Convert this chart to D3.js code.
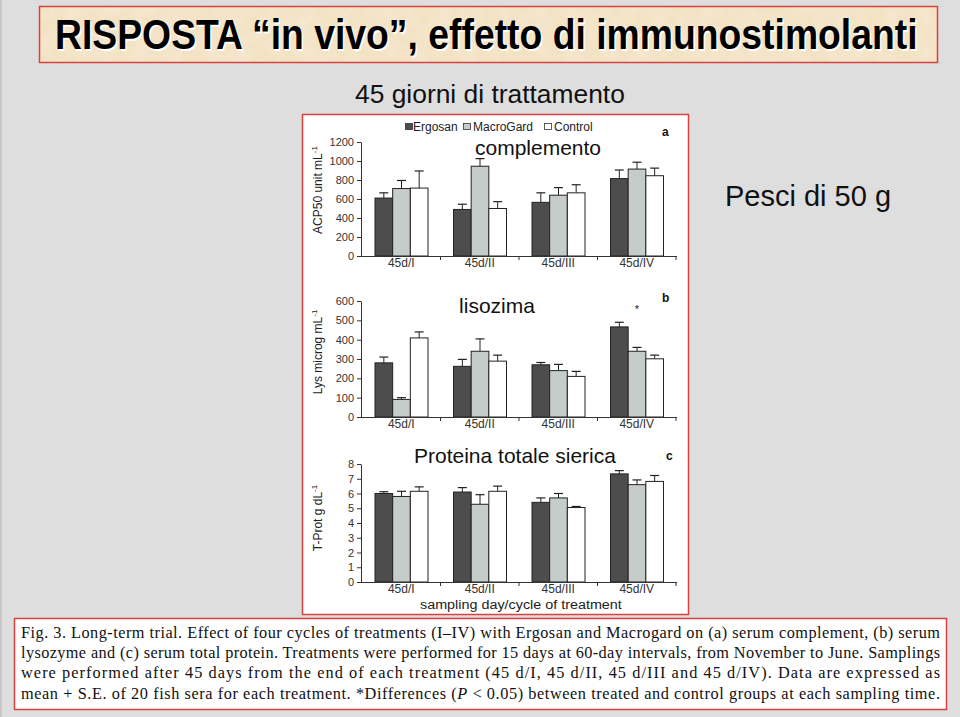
<!DOCTYPE html>
<html>
<head>
<meta charset="utf-8">
<script src="https://cdn.jsdelivr.net/npm/d3@7/dist/d3.min.js"></script>
<style>
  html, body { margin: 0; padding: 0; background: #dedede; }
  svg { display: block; }
</style>
</head>
<body>
<script>
// ---------------- DATA ----------------
const categories = ["45d/I", "45d/II", "45d/III", "45d/IV"];
const seriesNames = ["Ergosan", "MacroGard", "Control"];

// (a) serum complement, ACP50 unit mL-1
const acpTicks = [0, 200, 400, 600, 800, 1000, 1200];
const acpErgosan = [610, 490, 565, 815];
const acpErgosanSE = [55, 55, 100, 90];
const acpMacroGard = [710, 945, 640, 915];
const acpMacroGardSE = [85, 80, 80, 72];
const acpControl = [715, 500, 665, 845];
const acpControlSE = [180, 72, 85, 80];

// (b) serum lysozyme, Lys microg mL-1
const lysTicks = [0, 100, 200, 300, 400, 500, 600];
const lysErgosan = [280, 262, 270, 466];
const lysErgosanSE = [30, 36, 12, 24];
const lysMacroGard = [91, 340, 240, 340];
const lysMacroGardSE = [9, 64, 32, 20];
const lysControl = [409, 289, 210, 301];
const lysControlSE = [31, 31, 26, 19];

// (c) serum total protein, T-Prot g dL-1
const protTicks = [0, 1, 2, 3, 4, 5, 6, 7, 8];
const protErgosan = [6.0, 6.1, 5.4, 7.33];
const protErgosanSE = [0.12, 0.3, 0.3, 0.22];
const protMacroGard = [5.8, 5.27, 5.7, 6.6];
const protMacroGardSE = [0.35, 0.65, 0.3, 0.32];
const protControl = [6.15, 6.15, 5.05, 6.82];
const protControlSE = [0.3, 0.35, 0.07, 0.4];

const captionLines = [
  "Fig. 3. Long-term trial. Effect of four cycles of treatments (I\u2013IV) with Ergosan and Macrogard on (a) serum complement, (b) serum",
  "lysozyme and (c) serum total protein. Treatments were performed for 15 days at 60-day intervals, from November to June. Samplings",
  "were performed after 45 days from the end of each treatment (45 d/I, 45 d/II, 45 d/III and 45 d/IV). Data are expressed as",
  "mean + S.E. of 20 fish sera for each treatment. *Differences (|P| < 0.05) between treated and control groups at each sampling time."
];

// ---------------- DRAW ----------------
const W = 960, H = 717;
const SANS = "'Liberation Sans', Arial, Helvetica, sans-serif";
const SERIF = "'Liberation Serif', 'Times New Roman', serif";
const fills = {Ergosan: "#4d4d4d", MacroGard: "#c6cbcc", Control: "#ffffff"};
const RED = "#d9423f";

const svg = d3.select("body").append("svg").attr("width", W).attr("height", H);

const defs = svg.append("defs");
const filt = defs.append("filter").attr("id", "paper").attr("x", 0).attr("y", 0).attr("width", 1).attr("height", 1);
filt.append("feTurbulence").attr("type", "fractalNoise").attr("baseFrequency", 0.06).attr("numOctaves", 3).attr("seed", 4).attr("result", "n");
filt.append("feColorMatrix").attr("in", "n").attr("type", "matrix")
  .attr("values", "0 0 0 0 0.93  0 0 0 0 0.85  0 0 0 0 0.72  0 0 0 -0.9 0.6").attr("result", "c");
filt.append("feComposite").attr("in", "c").attr("in2", "SourceGraphic").attr("operator", "over");

svg.append("rect").attr("width", W).attr("height", H).attr("fill", "#dedede");
svg.append("rect").attr("x", 0).attr("y", 0).attr("width", 2).attr("height", H).attr("fill", "#c8c8c8");

// helper: fit text horizontally to a target width by scaling the glyphs
function fitText(sel, x, y, targetW, anchor) {
  const L = sel.node().getComputedTextLength();
  const s = targetW / L;
  sel.attr("x", 0).attr("y", 0).attr("transform", `translate(${x},${y}) scale(${s},1)`);
  if (anchor) sel.attr("text-anchor", anchor);
  return sel;
}

// Title box
svg.append("rect").attr("x", 39.5).attr("y", 6.5).attr("width", 898).attr("height", 56)
  .attr("fill", "#f3e2c4").attr("filter", "url(#paper)");
svg.append("rect").attr("x", 39.5).attr("y", 6.5).attr("width", 898).attr("height", 56)
  .attr("fill", "none").attr("stroke", RED).attr("stroke-width", 1.5);
const titleText = "RISPOSTA \u201cin vivo\u201d, effetto di immunostimolanti";
[["#ffffff", 1.5], ["#000000", 0]].forEach(([c, o]) => {
  const t = svg.append("text")
    .attr("font-family", SANS).attr("font-weight", "bold").attr("font-size", 42)
    .attr("fill", c).text(titleText);
  fitText(t, 55 + o, 49 + o, 863);
});

const sub = svg.append("text")
  .attr("font-family", SANS).attr("font-size", 26).attr("fill", "#111")
  .text("45 giorni di trattamento");
fitText(sub, 355, 103, 270);

svg.append("text").attr("x", 808).attr("y", 206).attr("text-anchor", "middle")
  .attr("font-family", SANS).attr("font-size", 29).attr("fill", "#111")
  .text("Pesci di 50 g");

// Figure box
svg.append("rect").attr("x", 302.5).attr("y", 114.5).attr("width", 386).attr("height", 500)
  .attr("fill", "#ffffff").attr("stroke", RED).attr("stroke-width", 1.5);

// Legend
const legendX = [405, 463, 544];
seriesNames.forEach((s, i) => {
  svg.append("rect").attr("x", legendX[i] + 0.5).attr("y", 123.5).attr("width", 7).attr("height", 6)
    .attr("fill", fills[s]).attr("stroke", "#333").attr("stroke-width", 0.8);
  svg.append("text").attr("x", legendX[i] + (i === 0 ? 8 : 10)).attr("y", 131)
    .attr("font-family", SANS).attr("font-size", 12).attr("fill", "#222").text(s);
});

const x0 = d3.scaleBand().domain(categories).range([362, 676]).padding(0);
const x1 = d3.scaleBand().domain(seriesNames).range([13, 66]).padding(0);

function drawPanel(cfg) {
  const g = svg.append("g");
  const y = d3.scaleLinear().domain([0, d3.max(cfg.ticks)]).range([cfg.bottom, cfg.top]);

  // bars
  seriesNames.forEach((s, si) => {
    const means = cfg.means[si], ses = cfg.ses[si];
    categories.forEach((c, ci) => {
      const bx = x0(c) + x1(s), bw = x1.bandwidth();
      const cx = bx + bw / 2;
      g.append("line").attr("x1", cx).attr("x2", cx).attr("y1", y(means[ci])).attr("y2", y(means[ci] + ses[ci]))
        .attr("stroke", "#222").attr("stroke-width", 1);
      g.append("line").attr("x1", cx - 4.5).attr("x2", cx + 4.5)
        .attr("y1", y(means[ci] + ses[ci])).attr("y2", y(means[ci] + ses[ci]))
        .attr("stroke", "#222").attr("stroke-width", 1.2);
      g.append("rect").attr("x", bx).attr("y", y(means[ci])).attr("width", bw)
        .attr("height", y(0) - y(means[ci]))
        .attr("fill", fills[s]).attr("stroke", "#222").attr("stroke-width", 1);
    });
  });

  // y axis
  const ya = g.append("g").attr("transform", "translate(361,0)")
    .call(d3.axisLeft(y).tickValues(cfg.ticks).tickFormat(d3.format("d"))
      .tickSize(4).tickPadding(3).tickSizeOuter(0));
  ya.select(".domain").attr("stroke", "#333");
  ya.selectAll(".tick line").attr("stroke", "#333");
  ya.selectAll("text").attr("font-family", SANS).attr("font-size", 11).attr("fill", "#333");

  // x axis
  const xa = g.append("g").attr("transform", `translate(0,${cfg.bottom})`)
    .call(d3.axisBottom(x0).tickSize(0).tickPadding(4).tickSizeOuter(0));
  xa.select(".domain").attr("d", "M361,0.5H677").attr("stroke", "#333");
  xa.selectAll("text").attr("font-family", SANS).attr("font-size", 12).attr("fill", "#333").attr("dy", "0.6em");
  categories.forEach((c) => {
    const bx = x0(c) + x0.bandwidth();
    g.append("line").attr("x1", bx).attr("x2", bx).attr("y1", cfg.bottom).attr("y2", cfg.bottom + 4)
      .attr("stroke", "#333");
  });

  // y label
  const yl = g.append("text").attr("transform", `translate(322,${cfg.labelY}) rotate(-90)`)
    .attr("text-anchor", "middle").attr("font-family", SANS).attr("font-size", 12).attr("fill", "#222");
  yl.append("tspan").text(cfg.label);
  yl.append("tspan").attr("dy", -5).attr("font-size", 8).text("-1");

  // panel letter
  g.append("text").attr("x", cfg.letterX).attr("y", cfg.letterY).attr("font-family", SANS)
    .attr("font-weight", "bold").attr("font-size", 12).attr("fill", "#111").text(cfg.letter);

  // overlay title
  g.append("text").attr("x", cfg.ovX).attr("y", cfg.ovY).attr("text-anchor", "middle")
    .attr("font-family", SANS).attr("font-size", 21).attr("fill", "#111").text(cfg.overlay);

  return y;
}

drawPanel({
  ticks: acpTicks, top: 142, bottom: 256,
  means: [acpErgosan, acpMacroGard, acpControl], ses: [acpErgosanSE, acpMacroGardSE, acpControlSE],
  label: "ACP50 unit mL", labelY: 190, letter: "a", letterX: 662, letterY: 136,
  overlay: "complemento", ovX: 538, ovY: 155
});
const yLys = drawPanel({
  ticks: lysTicks, top: 301, bottom: 417,
  means: [lysErgosan, lysMacroGard, lysControl], ses: [lysErgosanSE, lysMacroGardSE, lysControlSE],
  label: "Lys microg mL", labelY: 352, letter: "b", letterX: 662, letterY: 302,
  overlay: "lisozima", ovX: 497, ovY: 313
});
// significance asterisk (b, 45d/IV MacroGard)
svg.append("text").attr("x", x0("45d/IV") + x1("MacroGard") + x1.bandwidth() / 2).attr("y", yLys(540))
  .attr("text-anchor", "middle").attr("font-family", SANS).attr("font-size", 11).attr("fill", "#222").text("*");
drawPanel({
  ticks: protTicks, top: 464, bottom: 582,
  means: [protErgosan, protMacroGard, protControl], ses: [protErgosanSE, protMacroGardSE, protControlSE],
  label: "T-Prot g dL", labelY: 518, letter: "c", letterX: 666, letterY: 460,
  overlay: "Proteina totale sierica", ovX: 515, ovY: 463
});

const xt = svg.append("text")
  .attr("font-family", SANS).attr("font-size", 12.5).attr("fill", "#222")
  .text("sampling day/cycle of treatment");
fitText(xt, 420, 609, 202);

// Caption box
svg.append("rect").attr("x", 14.5).attr("y", 618.5).attr("width", 932).attr("height", 91)
  .attr("fill", "#ffffff").attr("stroke", RED).attr("stroke-width", 1.5);
captionLines.forEach((line, i) => {
  const t = svg.append("text").attr("x", 21).attr("y", 638 + i * 20.2)
    .attr("font-family", SERIF).attr("font-size", 16.3).attr("fill", "#111")
    .attr("textLength", 919).attr("lengthAdjust", "spacing");
  line.split("|").forEach((part, pi) => {
    const ts = t.append("tspan").text(part);
    if (pi % 2 === 1) ts.attr("font-style", "italic");
  });
});
</script>
</body>
</html>
